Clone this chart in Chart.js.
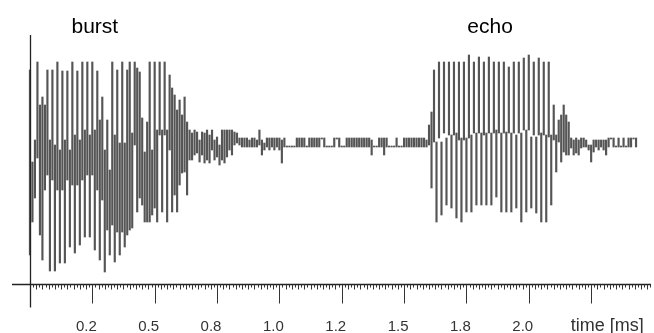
<!DOCTYPE html>
<html>
<head>
<meta charset="utf-8">
<script src="https://cdn.jsdelivr.net/npm/chart.js@4/dist/chart.umd.min.js"></script>
<style>
  html, body { margin: 0; padding: 0; background: #fff; }
  #wrap { width: 654px; height: 333px; position: relative; }
</style>
</head>
<body>
<div id="wrap"><canvas id="waveChart"></canvas></div>
<script>
/* ================================
   Data (one column = min/max of the trace)
================================ */
const sampleStep = 0.01; // ms per column

const colHigh = [
  75, -17, 5, 83, 40, 48, 40, 75, 5, 75,
  0, 83, -5, 74, 5, 74, -5, 83, 10, 74,
  5, 83, 15, 83, 10, 83, 15, 74, 25, 48,
  -5, 25, -25, 83, 10, 75, 2, 83, 2, 75,
  83, 12, 83, 77, 73, 27, -7, 23, 83, -5,
  83, 15, 83, 15, 83, 15, 70, 57, 50, 35,
  45, 30, 48, 23, 15, 12, 15, 13, 5, 13,
  12,
  15, 10, 15, 5, 8, 0, 15, 15, 15, 15,
  15, 13, 12, 7, 7, 7, 7, 5, 7, 7,
  5, 15, 5, 2, 7, 7, 7, 7, 7, 7,
  5, 7, -1, -1, -1, -1, 7, 7, 7, 7,
  -1, 7, 7, 7, 7, 7, 7, 7, -1, -1,
  -1, 7, 7, 7, -1, -1, 7, 7, 7, 7,
  7, 7, 7, 7, 7, 7, 5, -1, -1, 7,
  7, 7, 7, -1, -1, -1, 7, -1, -1, 7,
  7, 7, 7, 7, 7, 7, 7, 7, 5, 20,
  33, 75, 3, 83, 3, 83, 7, 83, 10, 83,
  12, 83, 7, 83, 7, 90, 10, 83, 12, 88,
  12, 83, 12, 88, 12, 83, 15, 83, 12, 83,
  13, 78, 12, 83, 10, 83, 12, 87, 15, 90,
  8, 83, 8, 87, 12, 83, 10, 83, 10, 40,
  10, 25, 30, 40, 30, 23, 7, 5, 7, 5,
  7, 7, 5, 0, 0, 5, 5, 5, 5, 5,
  5, 7, 7, 7, -1, 7, -1, 7, -1, 7,
  7, 7, 7
];

const colLow = [
  -110, -77, -53, -13, -90, -115, -45, -30, -126, -35,
  -126, -45, -118, -45, -118, -35, -102, -40, -108, -40,
  -100, -35, -92, -30, -92, -30, -105, -45, -115, -55,
  -127, -85, -110, -80, -117, -87, -110, -87, -102, -90,
  -85, -83, 0, -67, -53, -60, -77, -77, -77, -70,
  -63, -77, 10, -67, 10, -77, -5, -67, -50, -67,
  -40, -28, -27, -50, -15, -15, -10, -8, -17, -10,
  -18,
  -15, -18, -5, -15, -12, -20, -15, -18, -12, -5,
  -10, 0, 2, 0, -2, -2, -2, -2, -2, -2,
  -2, 0, -10, -5, -2, -5, -2, -5, -2, -5,
  -18, -2, -2, -2, -2, -2, -2, -2, -2, -2,
  -2, -2, -2, -2, -2, -2, 6, -2, -2, -2,
  -2, -2, 6, -2, -2, -2, -2, -2, -2, -2,
  -2, -2, -2, -2, -2, -2, -10, -2, -2, -2,
  -2, -10, -2, -2, -2, -2, -2, -2, -2, -2,
  -2, -2, -2, -2, -2, -2, -2, -2, -2, 0,
  -43, 3, -77, 7, -70, 12, -60, 10, -63, 10,
  -73, 5, -77, 5, -67, 7, -67, 12, -60, 12,
  -60, 10, -60, 12, -60, 12, -52, 12, -67, 12,
  -67, 12, -67, 12, -63, 12, -77, 15, -67, 15,
  -63, 10, -68, 10, -77, 10, -77, 8, -60, 5,
  -27, 3, -17, -7, -10, -10, -3, -10, -8, -10,
  -3, -2, -2, -5, -17, -7, -2, -5, -2, -5,
  -10, -2, 6, -2, -2, -2, -2, -2, -2, -2,
  -2, 6, -2
];

const minorStep = 0.0125;
const majorTicks = [0.25, 0.5, 0.75, 1.0, 1.25, 1.5, 1.75, 2.0, 2.25];
const majorLabels = ["0.2", "0.5", "0.8", "1.0", "1.2", "1.5", "1.8", "2.0"];
const axisTitle = "time [ms]";

const noteLabels = ["burst", "echo"];
const noteTimes = [0.26, 1.845];

/* ================================
   Axis drawing (oscilloscope style)
================================ */
const scopeAxis = {
  id: "scopeAxis",
  afterDraw(chart) {
    const { ctx, chartArea, scales } = chart;
    const x = scales.x;
    const y = scales.y;
    const base = Math.round(y.getPixelForValue(y.min)) + 0.5;
    const zero = Math.round(x.getPixelForValue(0)) + 0.5;

    ctx.save();
    ctx.strokeStyle = "#222";
    ctx.lineWidth = 1.3;

    ctx.beginPath();
    ctx.moveTo(chartArea.left, base);
    ctx.lineTo(chartArea.right, base);
    ctx.stroke();

    ctx.beginPath();
    ctx.moveTo(zero, chartArea.top);
    ctx.lineTo(zero, base + 23);
    ctx.stroke();

    // ticks
    ctx.lineWidth = 1;
    ctx.strokeStyle = "#333";
    const n = Math.floor(x.max / minorStep);
    for (let k = 1; k <= n; k++) {
      const px = Math.round(x.getPixelForValue(k * minorStep)) + 0.5;
      const len = k % 20 === 0 ? 19 : (k % 2 === 0 ? 5 : 3);
      ctx.beginPath();
      ctx.moveTo(px, base);
      ctx.lineTo(px, base + len);
      ctx.stroke();
    }

    // tick labels
    ctx.fillStyle = "#333";
    ctx.textAlign = "center";
    ctx.textBaseline = "alphabetic";
    ctx.font = "15px 'Liberation Sans', Arial, sans-serif";
    majorLabels.forEach((lbl, i) => {
      ctx.fillText(lbl, x.getPixelForValue(majorTicks[i]) - 6, base + 46);
    });
    ctx.font = "18px 'Liberation Sans', Arial, sans-serif";
    ctx.fillText(axisTitle, x.getPixelForValue(majorTicks[8]) + 16, base + 46);

    // notes
    ctx.fillStyle = "#000";
    ctx.font = "21px 'Liberation Sans', Arial, sans-serif";
    noteLabels.forEach((lbl, i) => {
      ctx.fillText(lbl, x.getPixelForValue(noteTimes[i]), chartArea.top - 2);
    });
    ctx.restore();
  }
};

/* ================================
   Chart
================================ */
const points = colHigh.map((h, i) => ({ x: i * sampleStep, y: [colLow[i], h] }));

new Chart(document.getElementById("waveChart"), {
  type: "bar",
  data: {
    datasets: [{
      label: "signal",
      data: points,
      backgroundColor: "#555555",
      borderWidth: 0,
      barThickness: 1.5
    }]
  },
  options: {
    responsive: true,
    maintainAspectRatio: false,
    animation: false,
    layout: { padding: { left: 12, right: 3, top: 35, bottom: 49 } },
    plugins: { legend: { display: false }, tooltip: { enabled: false } },
    scales: {
      x: { type: "linear", min: -0.072, max: 2.49, offset: false, display: false },
      y: { min: -139, max: 110, display: false }
    }
  },
  plugins: [scopeAxis]
});
</script>
</body>
</html>
